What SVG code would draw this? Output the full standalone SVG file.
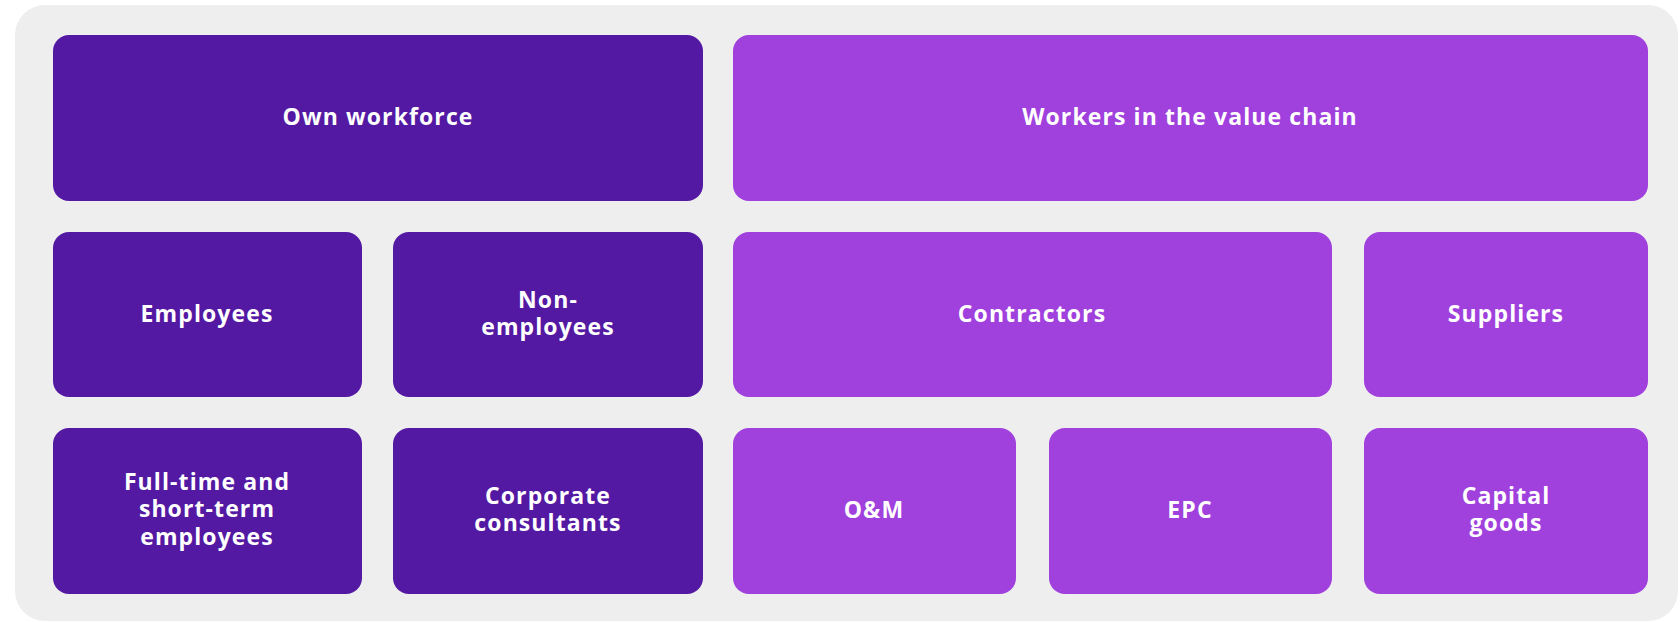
<svg xmlns="http://www.w3.org/2000/svg" width="1680" height="622" viewBox="0 0 1680 622">
<style>
.bg{fill:#EEEEEE}
.dk{fill:#5419A3}
.lt{fill:#A040DD}
text{font-family:"Open Sans","Liberation Sans",sans-serif;font-weight:700;font-size:23px;letter-spacing:1.1px;fill:#FFFFFF;text-anchor:middle}
</style>
<rect class="bg" x="15" y="5" width="1663" height="616" rx="30"/>
<g id="own-workforce"><rect class="dk" x="53" y="35" width="650" height="166" rx="16"/><text x="378" y="125">Own workforce</text></g>
<g id="value-chain"><rect class="lt" x="733" y="35" width="915" height="166" rx="16"/><text x="1190" y="125">Workers in the value chain</text></g>
<g id="employees"><rect class="dk" x="53" y="232" width="309" height="165" rx="16"/><text x="207" y="322">Employees</text></g>
<g id="non-employees"><rect class="dk" x="393" y="232" width="310" height="165" rx="16"/><text x="548" y="308">Non-</text><text x="548" y="335">employees</text></g>
<g id="contractors"><rect class="lt" x="733" y="232" width="599" height="165" rx="16"/><text x="1032" y="322">Contractors</text></g>
<g id="suppliers"><rect class="lt" x="1364" y="232" width="284" height="165" rx="16"/><text x="1506" y="322">Suppliers</text></g>
<g id="full-time"><rect class="dk" x="53" y="428" width="309" height="166" rx="16"/><text x="207" y="490">Full-time and</text><text x="207" y="517">short-term</text><text x="207" y="545">employees</text></g>
<g id="consultants"><rect class="dk" x="393" y="428" width="310" height="166" rx="16"/><text x="548" y="504">Corporate</text><text x="548" y="531">consultants</text></g>
<g id="om"><rect class="lt" x="733" y="428" width="283" height="166" rx="16"/><text x="874" y="518">O&amp;M</text></g>
<g id="epc"><rect class="lt" x="1049" y="428" width="283" height="166" rx="16"/><text x="1190" y="518">EPC</text></g>
<g id="capital-goods"><rect class="lt" x="1364" y="428" width="284" height="166" rx="16"/><text x="1506" y="504">Capital</text><text x="1506" y="531">goods</text></g>
<g id="connectors"/>
</svg>
